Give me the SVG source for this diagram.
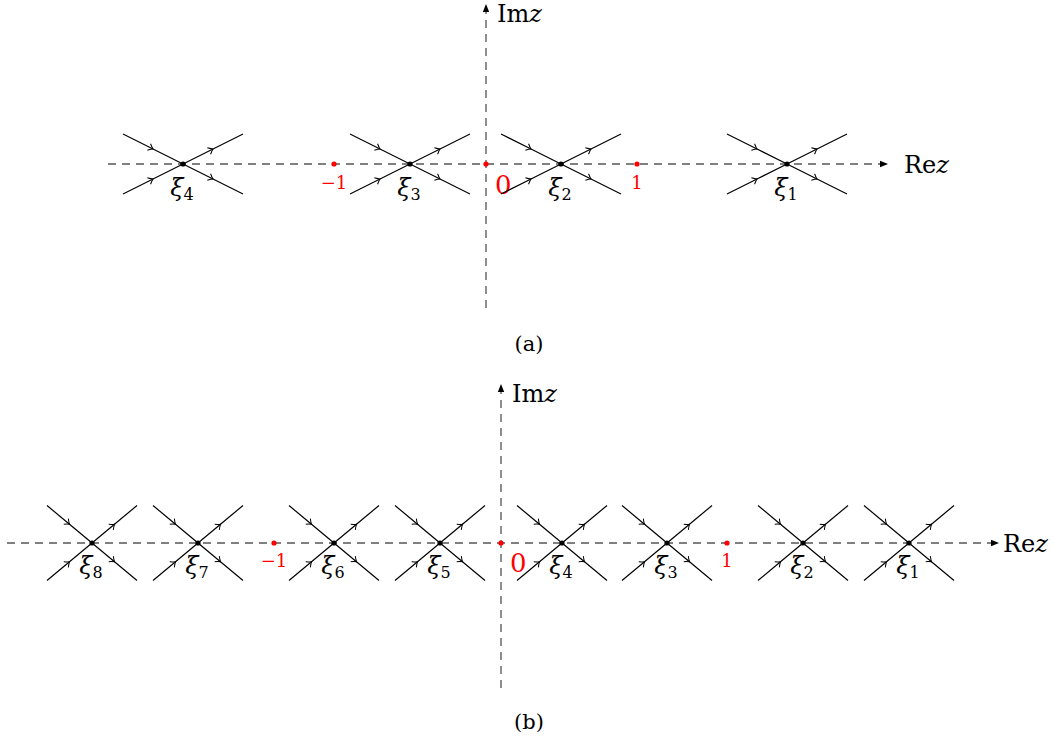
<svg xmlns="http://www.w3.org/2000/svg" xmlns:xlink="http://www.w3.org/1999/xlink" width="1054" height="740" viewBox="0 0 1054 740">
<style>
.axis{stroke:#000;stroke-width:1;stroke-dasharray:8 6;fill:none}
.vaxis{stroke:#444;stroke-width:1.2;stroke-dasharray:8 6;fill:none}
.ray{stroke:#000;stroke-width:1.2;fill:none;marker-mid:url(#barb)}
.pt{fill:#000}
.rpt{fill:#f00}
.t{font-family:"DejaVu Serif",serif}
</style>
<defs>
<marker id="barb" markerUnits="userSpaceOnUse" markerWidth="12" markerHeight="12" refX="0" refY="0" orient="auto" overflow="visible" viewBox="-6 -6 12 12">
<path d="M-4.5,-3.6 Q-1.6,-0.9 0,0 Q-1.6,0.9 -4.5,3.6" fill="none" stroke="#000" stroke-width="1"/>
</marker>
<marker id="tip" markerUnits="userSpaceOnUse" markerWidth="12" markerHeight="12" refX="0" refY="0" orient="auto" overflow="visible" viewBox="-10 -6 12 12">
<path d="M-8,-3.2 L0,0 L-8,3.2 Z" fill="#000" stroke="none"/>
</marker>
<g id="crossA">
<path class="ray" d="M-60,-30 L-30,-15 L0,0"/>
<path class="ray" d="M-60,30 L-30,15 L0,0"/>
<path class="ray" d="M0,0 L30,-15 L60,-30"/>
<path class="ray" d="M0,0 L30,15 L60,30"/>
<circle class="pt" r="2.6"/>
</g>
<g id="crossB">
<path class="ray" d="M-45,-37.5 L-22.5,-18.75 L0,0"/>
<path class="ray" d="M-45,37.5 L-22.5,18.75 L0,0"/>
<path class="ray" d="M0,0 L22.5,-18.75 L45,-37.5"/>
<path class="ray" d="M0,0 L22.5,18.75 L45,37.5"/>
<circle class="pt" r="2.6"/>
</g>
</defs>

<g class="t">
<!-- Part (a) -->
<g id="connectors-a">
<line class="axis" x1="108" y1="164" x2="888" y2="164" marker-end="url(#tip)"/>
<line class="vaxis" x1="486" y1="308" x2="486" y2="4" marker-end="url(#tip)"/>
</g>
<g id="axis-labels-a" fill="#000" font-size="24">
<text x="904" y="173">Re<tspan font-style="italic">z</tspan></text>
<text x="497" y="22">Im<tspan font-style="italic">z</tspan></text>
</g>
<g id="a-pts">
<circle class="rpt" cx="334" cy="164" r="2.6"/>
<circle class="rpt" cx="486" cy="164" r="2.6"/>
<circle class="rpt" cx="637" cy="164" r="2.6"/>
<text fill="#f00" x="334" y="189" font-size="18" text-anchor="middle">−1</text>
<text fill="#f00" x="495" y="194" font-size="26">0</text>
<text fill="#f00" x="637" y="189" font-size="18" text-anchor="middle">1</text>
</g>
<g id="a-xi4" transform="translate(183,164)"><use xlink:href="#crossA"/><text x="-1" y="32" font-size="24" font-style="italic" text-anchor="middle">ξ<tspan font-style="normal" font-size="16" dy="4">4</tspan></text></g>
<g id="a-xi3" transform="translate(410,164)"><use xlink:href="#crossA"/><text x="-1" y="32" font-size="24" font-style="italic" text-anchor="middle">ξ<tspan font-style="normal" font-size="16" dy="4">3</tspan></text></g>
<g id="a-xi2" transform="translate(561,164)"><use xlink:href="#crossA"/><text x="-1" y="32" font-size="24" font-style="italic" text-anchor="middle">ξ<tspan font-style="normal" font-size="16" dy="4">2</tspan></text></g>
<g id="a-xi1" transform="translate(787,164)"><use xlink:href="#crossA"/><text x="-1" y="32" font-size="24" font-style="italic" text-anchor="middle">ξ<tspan font-style="normal" font-size="16" dy="4">1</tspan></text></g>
<text x="529" y="351" font-size="21" text-anchor="middle">(a)</text>

<!-- Part (b) -->
<g id="connectors-b">
<line class="axis" x1="7" y1="543" x2="999" y2="543" marker-end="url(#tip)"/>
<line class="vaxis" x1="501" y1="688" x2="501" y2="384" marker-end="url(#tip)"/>
</g>
<g id="axis-labels-b" fill="#000" font-size="24">
<text x="1003" y="552">Re<tspan font-style="italic">z</tspan></text>
<text x="512" y="402">Im<tspan font-style="italic">z</tspan></text>
</g>
<g id="b-pts">
<circle class="rpt" cx="274" cy="543" r="2.6"/>
<circle class="rpt" cx="501" cy="543" r="2.6"/>
<circle class="rpt" cx="727" cy="543" r="2.6"/>
<text fill="#f00" x="274" y="567" font-size="18" text-anchor="middle">−1</text>
<text fill="#f00" x="510" y="572" font-size="26">0</text>
<text fill="#f00" x="727" y="567" font-size="18" text-anchor="middle">1</text>
</g>
<g id="b-xi8" transform="translate(92,543)"><use xlink:href="#crossB"/><text x="-1" y="31" font-size="24" font-style="italic" text-anchor="middle">ξ<tspan font-style="normal" font-size="16" dy="4">8</tspan></text></g>
<g id="b-xi7" transform="translate(198,543)"><use xlink:href="#crossB"/><text x="-1" y="31" font-size="24" font-style="italic" text-anchor="middle">ξ<tspan font-style="normal" font-size="16" dy="4">7</tspan></text></g>
<g id="b-xi6" transform="translate(334,543)"><use xlink:href="#crossB"/><text x="-1" y="31" font-size="24" font-style="italic" text-anchor="middle">ξ<tspan font-style="normal" font-size="16" dy="4">6</tspan></text></g>
<g id="b-xi5" transform="translate(440,543)"><use xlink:href="#crossB"/><text x="-1" y="31" font-size="24" font-style="italic" text-anchor="middle">ξ<tspan font-style="normal" font-size="16" dy="4">5</tspan></text></g>
<g id="b-xi4" transform="translate(562,543)"><use xlink:href="#crossB"/><text x="-1" y="31" font-size="24" font-style="italic" text-anchor="middle">ξ<tspan font-style="normal" font-size="16" dy="4">4</tspan></text></g>
<g id="b-xi3" transform="translate(667,543)"><use xlink:href="#crossB"/><text x="-1" y="31" font-size="24" font-style="italic" text-anchor="middle">ξ<tspan font-style="normal" font-size="16" dy="4">3</tspan></text></g>
<g id="b-xi2" transform="translate(803,543)"><use xlink:href="#crossB"/><text x="-1" y="31" font-size="24" font-style="italic" text-anchor="middle">ξ<tspan font-style="normal" font-size="16" dy="4">2</tspan></text></g>
<g id="b-xi1" transform="translate(909,543)"><use xlink:href="#crossB"/><text x="-1" y="31" font-size="24" font-style="italic" text-anchor="middle">ξ<tspan font-style="normal" font-size="16" dy="4">1</tspan></text></g>
<text x="529" y="729" font-size="21" text-anchor="middle">(b)</text>
</g>
</svg>
